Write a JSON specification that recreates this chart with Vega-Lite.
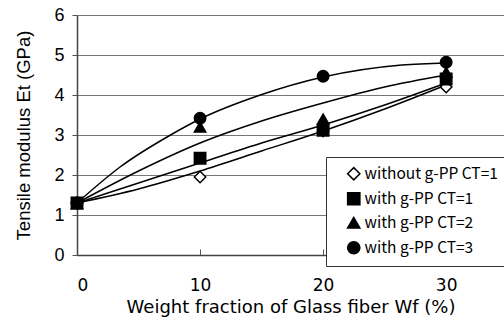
{
  "$schema": "https://vega.github.io/schema/vega-lite/v6.json",
  "width": 427,
  "height": 240,
  "autosize": {"type": "none"},
  "padding": {"left": 77, "top": 15, "right": 0, "bottom": 67},
  "background": "white",
  "config": {
    "view": {"stroke": null},
    "axis": {"labelColor": "black", "titleColor": "black", "titleFontWeight": "normal", "labelOverlap": false}
  },
  "datasets": {
    "pts": [
      {"wf": 0, "et": 1.3, "s": "without g-PP CT=1"},
      {"wf": 10, "et": 1.95, "s": "without g-PP CT=1"},
      {"wf": 20, "et": 3.1, "s": "without g-PP CT=1"},
      {"wf": 30, "et": 4.2, "s": "without g-PP CT=1"},
      {"wf": 0, "et": 1.3, "s": "with g-PP CT=1"},
      {"wf": 10, "et": 2.42, "s": "with g-PP CT=1"},
      {"wf": 20, "et": 3.12, "s": "with g-PP CT=1"},
      {"wf": 30, "et": 4.4, "s": "with g-PP CT=1"},
      {"wf": 0, "et": 1.28, "s": "with g-PP CT=2"},
      {"wf": 10, "et": 3.2, "s": "with g-PP CT=2"},
      {"wf": 20, "et": 3.4, "s": "with g-PP CT=2"},
      {"wf": 30, "et": 4.57, "s": "with g-PP CT=2"},
      {"wf": 0, "et": 1.3, "s": "with g-PP CT=3"},
      {"wf": 10, "et": 3.42, "s": "with g-PP CT=3"},
      {"wf": 20, "et": 4.47, "s": "with g-PP CT=3"},
      {"wf": 30, "et": 4.82, "s": "with g-PP CT=3"}
    ],
    "curves": [
      {"wf": 0, "et": 1.3, "c": "a"},
      {"wf": 3.5, "et": 2.2, "c": "a"},
      {"wf": 7.6, "et": 3.0, "c": "a"},
      {"wf": 10, "et": 3.4, "c": "a"},
      {"wf": 14.9, "et": 4.0, "c": "a"},
      {"wf": 20, "et": 4.45, "c": "a"},
      {"wf": 26.4, "et": 4.75, "c": "a"},
      {"wf": 30, "et": 4.8, "c": "a"},
      {"wf": 0, "et": 1.3, "c": "b"},
      {"wf": 5, "et": 2.1, "c": "b"},
      {"wf": 10, "et": 2.8, "c": "b"},
      {"wf": 15, "et": 3.35, "c": "b"},
      {"wf": 20, "et": 3.8, "c": "b"},
      {"wf": 25, "et": 4.2, "c": "b"},
      {"wf": 30, "et": 4.5, "c": "b"},
      {"wf": 0, "et": 1.3, "c": "c"},
      {"wf": 5, "et": 1.8, "c": "c"},
      {"wf": 10, "et": 2.3, "c": "c"},
      {"wf": 15, "et": 2.8, "c": "c"},
      {"wf": 20, "et": 3.25, "c": "c"},
      {"wf": 25, "et": 3.75, "c": "c"},
      {"wf": 30, "et": 4.3, "c": "c"},
      {"wf": 0, "et": 1.3, "c": "d"},
      {"wf": 5, "et": 1.65, "c": "d"},
      {"wf": 10, "et": 2.1, "c": "d"},
      {"wf": 15, "et": 2.6, "c": "d"},
      {"wf": 20, "et": 3.1, "c": "d"},
      {"wf": 25, "et": 3.65, "c": "d"},
      {"wf": 30, "et": 4.25, "c": "d"}
    ]
  },
  "encoding": {
    "x": {"field": "wf", "type": "quantitative", "scale": {"domain": [0, 34.7], "nice": false},
      "axis": {"values": [0, 10, 20, 30], "grid": false, "title": "Weight fraction of Glass fiber Wf (%)",
        "titleFont": "DejaVu Sans", "titleFontSize": 18, "titlePadding": 5,
        "labelFont": "DejaVu Sans", "labelFontSize": 17, "labelPadding": 28,
        "tickSize": -6, "tickColor": "#555", "domainColor": "#444", "domainWidth": 1.5}},
    "y": {"field": "et", "type": "quantitative", "scale": {"domain": [0, 6], "nice": false},
      "axis": {"values": [0, 1, 2, 3, 4, 5, 6], "tickCount": 7, "grid": true, "gridColor": "#777", "gridWidth": 1,
        "title": "Tensile modulus Et (GPa)", "titleFont": "Liberation Sans", "titleFontSize": 18.5, "titlePadding": 20,
        "labelFont": "Liberation Sans", "labelFontSize": 18, "labelPadding": 8,
        "tickSize": 5, "tickColor": "#555", "domainColor": "#444", "domainWidth": 1.5}}
  },
  "layer": [
    {
      "data": {"name": "curves"},
      "mark": {"type": "line", "color": "black", "strokeWidth": 1.5, "interpolate": "monotone", "clip": true},
      "encoding": {
        "detail": {"field": "c"}
      }
    },
    {
      "data": {"name": "pts"},
      "mark": {"type": "point", "filled": true, "strokeWidth": 1.5, "opacity": 1, "size": 130},
      "encoding": {
        "shape": {"field": "s", "type": "nominal", "title": null,
          "scale": {"domain": ["without g-PP CT=1", "with g-PP CT=1", "with g-PP CT=2", "with g-PP CT=3"],
            "range": ["diamond", "square", "triangle-up", "circle"]},
          "legend": {"orient": "none", "legendX": 249, "legendY": 142, "fillColor": "white", "strokeColor": "#333",
            "padding": 9, "symbolOffset": 11, "labelFont": "Noto Sans CJK JP", "labelFontSize": 15.5, "labelColor": "black",
            "symbolSize": 150, "symbolStrokeWidth": 1.5, "rowPadding": 6, "labelOffset": 3, "labelLimit": 300}},
        "fill": {"field": "s", "type": "nominal", "title": null,
          "scale": {"domain": ["without g-PP CT=1", "with g-PP CT=1", "with g-PP CT=2", "with g-PP CT=3"],
            "range": ["white", "black", "black", "black"]}},
        "stroke": {"field": "s", "type": "nominal", "title": null,
          "scale": {"domain": ["without g-PP CT=1", "with g-PP CT=1", "with g-PP CT=2", "with g-PP CT=3"],
            "range": ["black", "black", "black", "black"]}}
      }
    }
  ]
}
